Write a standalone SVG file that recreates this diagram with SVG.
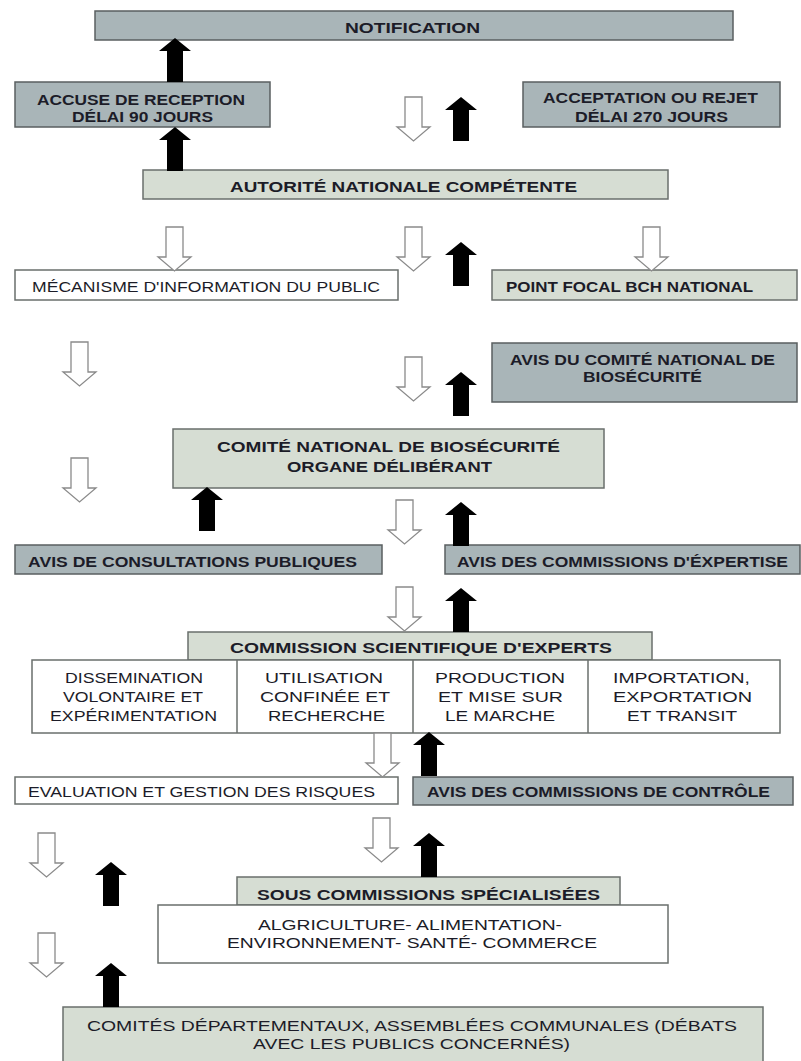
<svg xmlns="http://www.w3.org/2000/svg" width="801" height="1061" viewBox="0 0 801 1061">
<style>
.g{fill:#a9b5b8;stroke:#5a5f60;stroke-width:1.5}
.l{fill:#d6ddd3;stroke:#6a6f6c;stroke-width:1.5}
.w{fill:#ffffff;stroke:#6a6f6c;stroke-width:1.5}
text{font-family:"Liberation Sans",Arial,sans-serif;font-size:14px;fill:#1c1c28}
.b{font-weight:bold}
.m{font-size:15.5px}
.ba{fill:#000}
.ha{fill:#fff;stroke:#8a8a8a;stroke-width:1.3}
</style>
<defs>
<path id="up" d="M16,0 L32,13 L24,13 L24,44 L8,44 L8,13 L0,13 Z"/>
<path id="down" d="M8,0 H25 V30 H33 L16.5,44 L0,30 H8 Z"/>
</defs>
<rect width="801" height="1061" fill="#fff"/>

<g id="notification"><rect class="g" x="95" y="11" width="638" height="29"/><text class="b" x="345" y="33" textLength="135" lengthAdjust="spacingAndGlyphs">NOTIFICATION</text></g>
<g id="accuse"><rect class="g" x="15" y="82" width="255" height="45"/><text class="b" x="37" y="105" textLength="208" lengthAdjust="spacingAndGlyphs">ACCUSE DE RECEPTION</text><text class="b" x="72" y="122" textLength="141" lengthAdjust="spacingAndGlyphs">DÉLAI 90 JOURS</text></g>
<g id="acceptation"><rect class="g" x="523" y="82" width="257" height="45"/><text class="b" x="543" y="103" textLength="215" lengthAdjust="spacingAndGlyphs">ACCEPTATION OU REJET</text><text class="b" x="575" y="122" textLength="153" lengthAdjust="spacingAndGlyphs">DÉLAI 270 JOURS</text></g>
<g id="autorite"><rect class="l" x="143" y="170" width="525" height="29"/><text class="b" x="230" y="192" textLength="347" lengthAdjust="spacingAndGlyphs">AUTORITÉ NATIONALE COMPÉTENTE</text></g>
<g id="mecanisme"><rect class="w" x="15" y="270" width="383" height="30"/><text x="32" y="292" textLength="348" lengthAdjust="spacingAndGlyphs">MÉCANISME D'INFORMATION DU PUBLIC</text></g>
<g id="point-focal"><rect class="l" x="492" y="270" width="305" height="30"/><text class="b" x="506" y="292" textLength="247" lengthAdjust="spacingAndGlyphs">POINT FOCAL BCH NATIONAL</text></g>
<g id="avis-comite"><rect class="g" x="492" y="343" width="305" height="59"/><text class="b" x="510" y="365" textLength="265" lengthAdjust="spacingAndGlyphs">AVIS DU COMITÉ NATIONAL DE</text><text class="b" x="583" y="382" textLength="119" lengthAdjust="spacingAndGlyphs">BIOSÉCURITÉ</text></g>
<g id="comite-national"><rect class="l" x="173" y="429" width="431" height="59"/><text class="b" x="217" y="452" textLength="343" lengthAdjust="spacingAndGlyphs">COMITÉ NATIONAL DE BIOSÉCURITÉ</text><text class="b" x="287" y="472" textLength="205" lengthAdjust="spacingAndGlyphs">ORGANE DÉLIBÉRANT</text></g>
<g id="avis-consultations"><rect class="g" x="15" y="545" width="367" height="29"/><text class="b" x="28" y="567" textLength="329" lengthAdjust="spacingAndGlyphs">AVIS DE CONSULTATIONS PUBLIQUES</text></g>
<g id="avis-expertise"><rect class="g" x="445" y="545" width="355" height="29"/><text class="b" x="457" y="567" textLength="331" lengthAdjust="spacingAndGlyphs">AVIS DES COMMISSIONS D'ÉXPERTISE</text></g>
<g id="commission-scientifique"><rect class="l" x="188" y="632" width="464" height="28"/><text class="b" x="230" y="653" textLength="382" lengthAdjust="spacingAndGlyphs">COMMISSION SCIENTIFIQUE D'EXPERTS</text></g>
<g id="domaines">
<rect class="w" x="32" y="660" width="748" height="73"/>
<line x1="237" y1="660" x2="237" y2="733" stroke="#6a6f6c" stroke-width="1.5"/>
<line x1="413" y1="660" x2="413" y2="733" stroke="#6a6f6c" stroke-width="1.5"/>
<line x1="588" y1="660" x2="588" y2="733" stroke="#6a6f6c" stroke-width="1.5"/>
<text class="m" x="65" y="683" textLength="138" lengthAdjust="spacingAndGlyphs">DISSEMINATION</text>
<text class="m" x="63" y="702" textLength="140" lengthAdjust="spacingAndGlyphs">VOLONTAIRE ET</text>
<text class="m" x="50" y="721" textLength="167" lengthAdjust="spacingAndGlyphs">EXPÉRIMENTATION</text>
<text class="m" x="265" y="683" textLength="118" lengthAdjust="spacingAndGlyphs">UTILISATION</text>
<text class="m" x="260" y="702" textLength="130" lengthAdjust="spacingAndGlyphs">CONFINÉE ET</text>
<text class="m" x="268" y="721" textLength="117" lengthAdjust="spacingAndGlyphs">RECHERCHE</text>
<text class="m" x="435" y="683" textLength="130" lengthAdjust="spacingAndGlyphs">PRODUCTION</text>
<text class="m" x="438" y="702" textLength="125" lengthAdjust="spacingAndGlyphs">ET MISE SUR</text>
<text class="m" x="445" y="721" textLength="110" lengthAdjust="spacingAndGlyphs">LE MARCHE</text>
<text class="m" x="613" y="683" textLength="137" lengthAdjust="spacingAndGlyphs">IMPORTATION,</text>
<text class="m" x="613" y="702" textLength="139" lengthAdjust="spacingAndGlyphs">EXPORTATION</text>
<text class="m" x="627" y="721" textLength="110" lengthAdjust="spacingAndGlyphs">ET TRANSIT</text>
</g>
<g id="evaluation"><rect class="w" x="15" y="777" width="383" height="27"/><text x="28" y="797" textLength="347" lengthAdjust="spacingAndGlyphs">EVALUATION ET GESTION DES RISQUES</text></g>
<g id="avis-controle"><rect class="g" x="413" y="777" width="380" height="28"/><text class="b" x="427" y="797" textLength="343" lengthAdjust="spacingAndGlyphs">AVIS DES COMMISSIONS DE CONTRÔLE</text></g>
<g id="sous-commissions"><rect class="l" x="237" y="877" width="383" height="28"/><text class="b" x="257" y="900" textLength="343" lengthAdjust="spacingAndGlyphs">SOUS COMMISSIONS SPÉCIALISÉES</text></g>
<g id="secteurs"><rect class="w" x="158" y="905" width="510" height="58"/><text class="m" x="258" y="930" textLength="304" lengthAdjust="spacingAndGlyphs">ALGRICULTURE- ALIMENTATION-</text><text class="m" x="227" y="948" textLength="370" lengthAdjust="spacingAndGlyphs">ENVIRONNEMENT- SANTÉ- COMMERCE</text></g>
<g id="comites-departementaux"><rect class="l" x="63" y="1007" width="700" height="60"/><text class="m" x="87" y="1031" textLength="650" lengthAdjust="spacingAndGlyphs">COMITÉS DÉPARTEMENTAUX, ASSEMBLÉES COMMUNALES (DÉBATS</text><text class="m" x="253" y="1049" textLength="317" lengthAdjust="spacingAndGlyphs">AVEC LES PUBLICS CONCERNÉS)</text></g>

<g id="connectors">
<use href="#down" class="ha" x="397" y="97"/>
<use href="#down" class="ha" x="158" y="227"/>
<use href="#down" class="ha" x="397" y="227"/>
<use href="#down" class="ha" x="635" y="227"/>
<use href="#down" class="ha" x="63" y="342"/>
<use href="#down" class="ha" x="397" y="357"/>
<use href="#down" class="ha" x="63" y="458"/>
<use href="#down" class="ha" x="388" y="500"/>
<use href="#down" class="ha" x="388" y="587"/>
<use href="#down" class="ha" x="366" y="733"/>
<use href="#down" class="ha" x="365" y="818"/>
<use href="#down" class="ha" x="30" y="833"/>
<use href="#down" class="ha" x="30" y="933"/>
<use href="#up" class="ba" x="159" y="38"/>
<use href="#up" class="ba" x="159" y="127"/>
<use href="#up" class="ba" x="445" y="97"/>
<use href="#up" class="ba" x="445" y="242"/>
<use href="#up" class="ba" x="445" y="372"/>
<use href="#up" class="ba" x="191" y="487"/>
<use href="#up" class="ba" x="445" y="502"/>
<use href="#up" class="ba" x="445" y="588"/>
<use href="#up" class="ba" x="413" y="732"/>
<use href="#up" class="ba" x="413" y="833"/>
<use href="#up" class="ba" x="95" y="862"/>
<use href="#up" class="ba" x="95" y="963"/>
</g>
</svg>
